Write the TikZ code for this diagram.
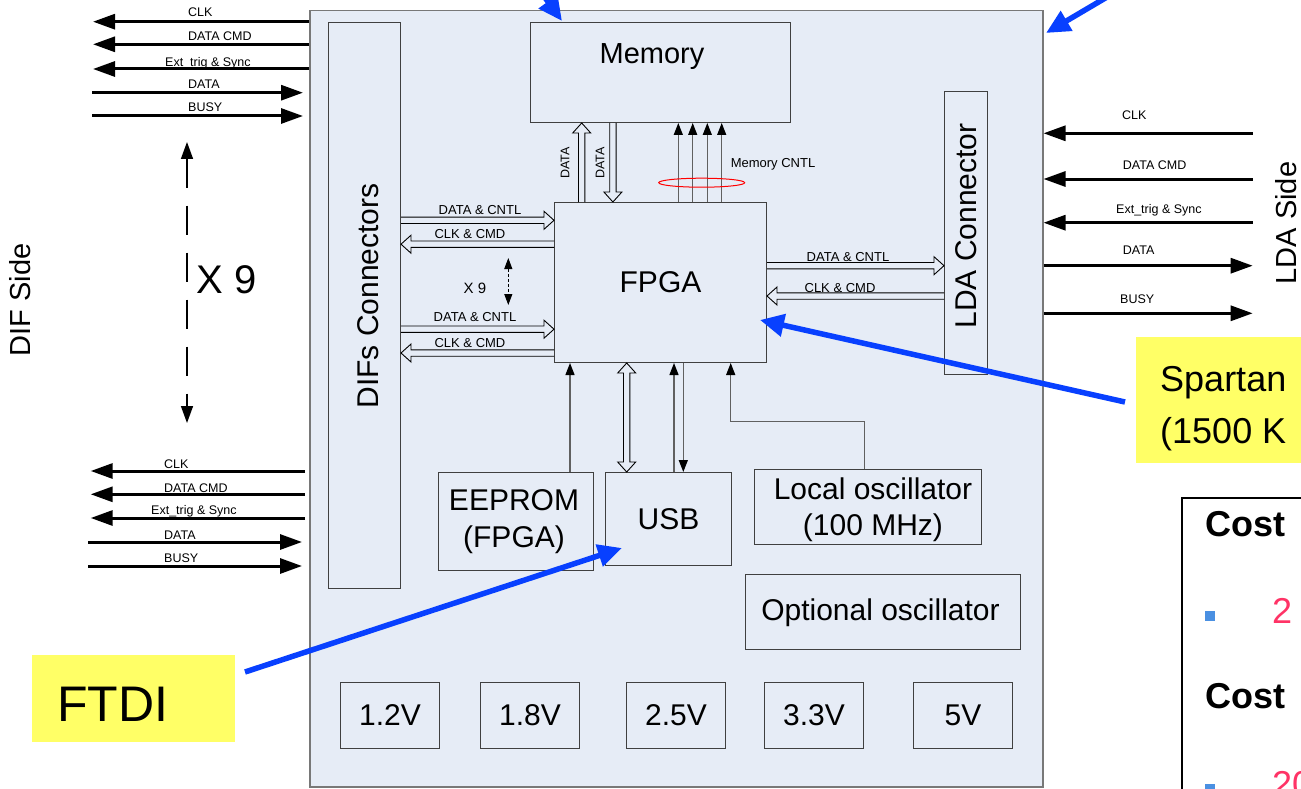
\documentclass[tikz,border=0pt]{standalone}
\usepackage{fontspec}
\setmainfont{Liberation Sans}
\usetikzlibrary{arrows.meta,calc}
\definecolor{boardbg}{RGB}{230,236,246}
\definecolor{boardedge}{RGB}{120,120,120}
\definecolor{boxedge}{RGB}{64,64,64}
\definecolor{wiregray}{RGB}{96,96,96}
\definecolor{pointer}{RGB}{8,64,255}
\definecolor{note}{RGB}{255,255,102}
\definecolor{costred}{RGB}{255,51,102}
\definecolor{bulletblue}{RGB}{74,144,226}
\newcommand\fsz[1]{\fontsize{#1pt}{#1pt}\selectfont}
\begin{document}
\begin{tikzpicture}[x=1pt,y=-1pt,
  box/.style={draw=boxedge, line width=1pt, fill=boardbg, inner sep=0pt, anchor=north west},
  txt/.style={inner sep=0pt, anchor=base, font=\fsz{30}},
  rtxt/.style={inner sep=0pt, rotate=90, font=\fsz{30}},
  lbl/.style={inner sep=0pt, anchor=base west, font=\fsz{12.5}},
  clbl/.style={inner sep=0pt, anchor=base, font=\fsz{13}},
  sig/.style={line width=3pt, -{Triangle[length=22pt,width=15pt]}},
  wire/.style={draw=wiregray, line width=1.3pt, -{Triangle[length=12pt,width=9pt,color=black]}},
  hollow/.style={draw=black, line width=0.9pt, to path={
    ($(\tikztostart)!3.2pt!90:(\tikztotarget)$)
    -- ($($(\tikztotarget)!10pt!(\tikztostart)$)!3.2pt!90:(\tikztotarget)$)
    -- ($($(\tikztotarget)!10pt!(\tikztostart)$)!9pt!90:(\tikztotarget)$)
    -- (\tikztotarget)
    -- ($($(\tikztotarget)!10pt!(\tikztostart)$)!9pt!-90:(\tikztotarget)$)
    -- ($($(\tikztotarget)!10pt!(\tikztostart)$)!3.2pt!-90:(\tikztotarget)$)
    -- ($(\tikztostart)!3.2pt!-90:(\tikztotarget)$)}},
  hollowboth/.style={draw=black, line width=0.9pt, to path={
    ($($(\tikztostart)!10pt!(\tikztotarget)$)!3.2pt!90:(\tikztotarget)$)
    -- ($($(\tikztotarget)!10pt!(\tikztostart)$)!3.2pt!90:(\tikztotarget)$)
    -- ($($(\tikztotarget)!10pt!(\tikztostart)$)!9pt!90:(\tikztotarget)$)
    -- (\tikztotarget)
    -- ($($(\tikztotarget)!10pt!(\tikztostart)$)!9pt!-90:(\tikztotarget)$)
    -- ($($(\tikztotarget)!10pt!(\tikztostart)$)!3.2pt!-90:(\tikztotarget)$)
    -- ($($(\tikztostart)!10pt!(\tikztotarget)$)!3.2pt!-90:(\tikztotarget)$)
    -- ($($(\tikztostart)!10pt!(\tikztotarget)$)!9pt!-90:(\tikztotarget)$)
    -- (\tikztostart)
    -- ($($(\tikztostart)!10pt!(\tikztotarget)$)!9pt!90:(\tikztotarget)$)
    -- cycle}},
  pointerarrow/.style={draw=pointer, line width=5.5pt, -{Triangle[length=24pt,width=22pt]}},
  notebox/.style={fill=note, draw=none, inner sep=0pt, anchor=north west}
]
\useasboundingbox (0,0) rectangle (1301,789);

% ---------- board and blocks ----------
\node[box, draw=boardedge, line width=1.5pt, minimum width=733pt, minimum height=776pt] (board) at (309,10) {};
\node[box, minimum width=72pt, minimum height=566pt] (dif) at (328,22) {};
\node[box, minimum width=260pt, minimum height=100pt] (mem) at (530,22) {};
\node[box, minimum width=212pt, minimum height=160pt, font=\fsz{30}] (fpga) at (554,202) {FPGA};
\node[box, minimum width=43pt, minimum height=283pt] (lda) at (944,91) {};
\node[box, minimum width=155pt, minimum height=98pt] (eeprom) at (438,472) {};
\node[box, minimum width=126pt, minimum height=93pt, font=\fsz{30}] (usb) at (605,472) {USB};
\node[box, minimum width=227pt, minimum height=75pt] (losc) at (754,469) {};
\node[box, minimum width=275pt, minimum height=75pt] (oosc) at (745,574) {};
\node[box, minimum width=99pt, minimum height=66pt, font=\fsz{30}] (v12) at (340,682) {1.2V};
\node[box, minimum width=99pt, minimum height=66pt, font=\fsz{30}] (v18) at (480,682) {1.8V};
\node[box, minimum width=99pt, minimum height=66pt, font=\fsz{30}] (v25) at (626,682) {2.5V};
\node[box, minimum width=99pt, minimum height=66pt, font=\fsz{30}] (v33) at (764,682) {3.3V};
\node[box, minimum width=99pt, minimum height=66pt, font=\fsz{30}] (v5) at (913,682) {5V};

\node[txt, font=\fsz{29}] (memtxt) at (652,64) {Memory};
\node[rtxt] (diftxt) at (368,296) {DIFs Connectors};
\node[rtxt] (ldatxt) at (966,226) {LDA Connector};
\node[txt] (eeptxt1) at (514,510.7) {EEPROM};
\node[txt] (eeptxt2) at (514,547.4) {(FPGA)};
\node[txt] (osctxt1) at (873,499.7) {Local oscillator};
\node[txt] (osctxt2) at (873,535.7) {(100 MHz)};
\node[txt] (oosctxt) at (880.5,620.7) {Optional oscillator};

% ---------- side labels ----------
\node[rtxt, font=\fsz{29}] (difside) at (20,300) {DIF Side};
\node[rtxt, font=\fsz{29}] (ldaside) at (1286,223) {LDA Side};
\node[inner sep=0pt, font=\fsz{40}] (bigx9) at (227,280) {X 9};
\coordinate (x9top) at (187,142);
\coordinate (x9bot) at (187,423);
\draw[line width=1.5pt, dash pattern=on 29pt off 18pt,
  {Triangle[length=17pt,width=12pt]}-{Triangle[length=17pt,width=12pt]}] (x9top) -- (x9bot);

% ---------- DIF side signals (upper) ----------
\draw[sig] (board.west |- 0,21.7) -- (93,21.7);
\draw[sig] (board.west |- 0,44.3) -- (93,44.3);
\draw[sig] (board.west |- 0,69) -- (93,69);
\draw[sig] (92,92.7) -- ($(board.west |- 0,92.7)+(-6,0)$);
\draw[sig] (92,116) -- ($(board.west |- 0,116)+(-6,0)$);
\node[lbl] at (188,16.2) {CLK};
\node[lbl] at (188,40.5) {DATA CMD};
\node[lbl] at (165,66.5) {Ext\_trig \& Sync};
\node[lbl] at (188,88.8) {DATA};
\node[lbl] at (188,112) {BUSY};

% ---------- DIF side signals (lower) ----------
\draw[sig] ($(board.west |- 0,471)+(-4,0)$) -- (90.7,471);
\draw[sig] ($(board.west |- 0,494.3)+(-4,0)$) -- (90.7,494.3);
\draw[sig] ($(board.west |- 0,518)+(-4,0)$) -- (90.7,518);
\draw[sig] (88,542) -- ($(board.west |- 0,542)+(-7,0)$);
\draw[sig] (88,566) -- ($(board.west |- 0,566)+(-7,0)$);
\node[lbl] at (164,468.7) {CLK};
\node[lbl] at (164,492) {DATA CMD};
\node[lbl] at (151,514) {Ext\_trig \& Sync};
\node[lbl] at (164,539.2) {DATA};
\node[lbl] at (164,562.5) {BUSY};

% ---------- LDA side signals ----------
\draw[sig] (1252.7,133.3) -- (board.east |- 0,133.3);
\draw[sig] (1252.7,179) -- (board.east |- 0,179);
\draw[sig] (1252.7,222.7) -- (board.east |- 0,222.7);
\draw[sig] (board.east |- 0,265.7) -- (1252.7,265.7);
\draw[sig] (board.east |- 0,313.3) -- (1252.7,313.3);
\node[lbl] at (1122,119.2) {CLK};
\node[lbl] at (1122.7,169.2) {DATA CMD};
\node[lbl] at (1116,213.5) {Ext\_trig \& Sync};
\node[lbl] at (1122.7,254) {DATA};
\node[lbl] at (1120,303.2) {BUSY};

% ---------- FPGA buses ----------
\draw[hollow] (dif.east |- 0,220.3) to (fpga.west |- 0,220.3);
\draw[hollow] (fpga.west |- 0,244.2) to (dif.east |- 0,244.2);
\draw[hollow] (dif.east |- 0,329.2) to (fpga.west |- 0,329.2);
\draw[hollow] (fpga.west |- 0,353) to (dif.east |- 0,353);
\draw[hollow] (fpga.east |- 0,265.7) to (lda.west |- 0,265.7);
\draw[hollow] (lda.west |- 0,296) to (fpga.east |- 0,296);
\draw[hollow] (fpga.north -| 581.7,0) to (mem.south -| 581.7,0);
\draw[hollow] (mem.south -| 612.9,0) to (fpga.north -| 612.9,0);
\draw[hollowboth] (fpga.south -| 626.7,0) to (usb.north -| 626.7,0);

\node[clbl] at (480,214.7) {DATA \& CNTL};
\node[clbl] at (470,238.7) {CLK \& CMD};
\node[clbl] at (475,321.4) {DATA \& CNTL};
\node[clbl] at (470,347.7) {CLK \& CMD};
\node[clbl] at (848,261.4) {DATA \& CNTL};
\node[clbl] at (840,292.4) {CLK \& CMD};
\node[clbl] at (773,167.7) {Memory CNTL};
\node[inner sep=0pt, rotate=90, font=\fsz{12.5}] at (565,163) {DATA};
\node[inner sep=0pt, rotate=90, font=\fsz{12.5}] at (600,163) {DATA};
\node[inner sep=0pt, font=\fsz{15}] (smallx9) at (475,288) {X 9};
\coordinate (sx9top) at (508.3,258);
\coordinate (sx9bot) at (508.3,305);
\draw[line width=1pt, dash pattern=on 3pt off 2pt,
  {Triangle[length=11pt,width=8pt]}-{Triangle[length=11pt,width=8pt]}] (sx9top) -- (sx9bot);

\foreach \xx in {678.3,692.7,707.3,721.7}
  \draw[wire] (fpga.north -| \xx,0) -- (mem.south -| \xx,0);
\draw[red, line width=1pt] (701.7,182.7) ellipse [x radius=43pt, y radius=4.5pt];

\draw[wire] (eeprom.north -| 570,0) -- (fpga.south -| 570,0);
\draw[wire] (usb.north -| 674,0) -- (fpga.south -| 674,0);
\draw[wire] (fpga.south -| 683.3,0) -- (usb.north -| 683.3,0);
\coordinate (oscbend) at (730.7,421.7);
\draw[wire] (losc.north -| 864.3,0) |- (oscbend) -- (fpga.south -| oscbend);

% ---------- notes ----------
\node[notebox, minimum width=203pt, minimum height=87pt] (ftdi) at (32,655) {};
\node[inner sep=0pt, anchor=base west, font=\fsz{50}] (ftditxt) at (57,721) {FTDI};
\node[notebox, minimum width=185pt, minimum height=126pt] (spartan) at (1136,337) {};
\node[inner sep=0pt, anchor=base west, font=\fsz{36}] (sp1) at (1160,391) {Spartan};
\node[inner sep=0pt, anchor=base west, font=\fsz{36}] (sp2) at (1160,443) {(1500 K};

\node[draw=black, line width=2pt, fill=white, inner sep=0pt, anchor=north west,
  minimum width=150pt, minimum height=320pt] (cost) at (1181,497) {};
\node[inner sep=0pt, anchor=base west, font=\bfseries\fsz{36}] (cost1) at (1205,536) {Cost};
\fill[bulletblue] (1205,611) rectangle (1215,621);
\node[inner sep=0pt, anchor=base west, font=\fsz{36}, text=costred] (c2) at (1272,623) {2};
\node[inner sep=0pt, anchor=base west, font=\bfseries\fsz{36}] (cost2) at (1205,708) {Cost};
\fill[bulletblue] (1205,784) rectangle (1215,794);
\node[inner sep=0pt, anchor=base west, font=\fsz{36}, text=costred] (c20) at (1272,796) {20};

% ---------- pointers ----------
\coordinate (ftdiTail) at (245,672);
\coordinate (usbPt) at (622,548);
\draw[pointerarrow] (ftdiTail) -- (usbPt);
\coordinate (spTail) at (1125,402);
\coordinate (fpgaPt) at (760,320);
\draw[pointerarrow] (spTail) -- (fpgaPt);
\coordinate (memTail) at (517,-41);
\coordinate (memPt) at (562,21);
\draw[pointerarrow] (memTail) -- (memPt);
\coordinate (bdTail) at (1158,-33);
\coordinate (bdPt) at (1046,33);
\draw[pointerarrow] (bdTail) -- (bdPt);
\end{tikzpicture}
\end{document}
